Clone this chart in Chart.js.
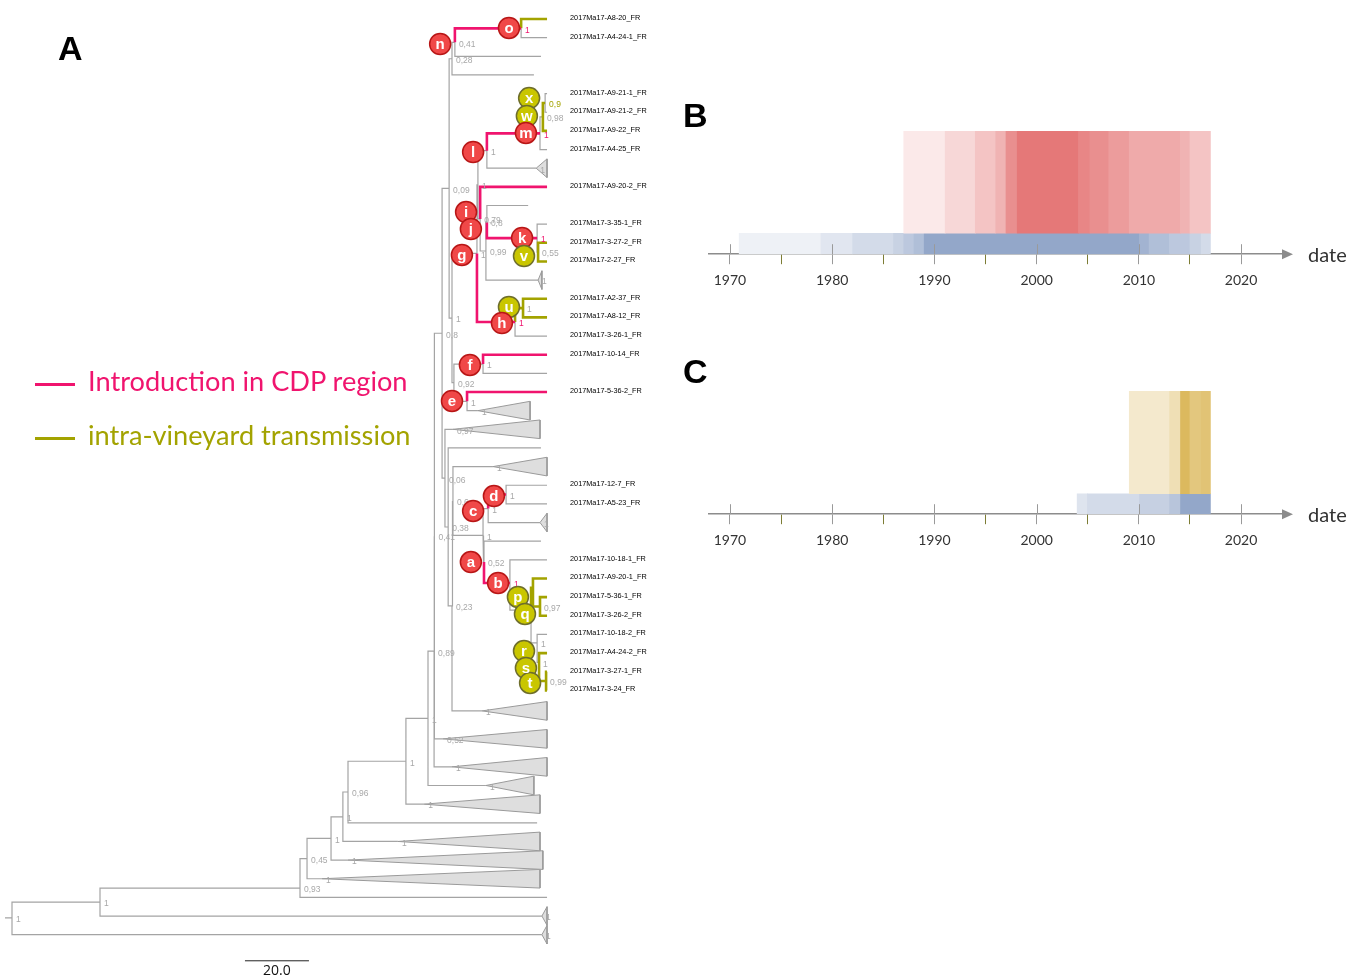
<!DOCTYPE html>
<html lang="en">
<head>
<meta charset="UTF-8" />
<title>Phylogeny of 2017Ma17 isolates and dating of introductions</title>
<script src="https://cdn.jsdelivr.net/npm/chart.js"></script>
<style>
  * { margin: 0; padding: 0; box-sizing: border-box; }
  body { width: 1364px; height: 980px; background: #fff; overflow: hidden; position: relative; }
  .box { position: absolute; }
  .letter { position: absolute; font: bold 34px 'Liberation Sans', Arial, sans-serif; line-height: 34px; color: #000; }
  .legend { position: absolute; left: 35px; font-family: Lato, 'Open Sans', sans-serif; font-size: 27.2px; line-height: 26px; white-space: nowrap; }
  .legend .line { display: inline-block; width: 40px; height: 3px; vertical-align: middle; margin-right: 13px; }
</style>
</head>
<body>
  <div class="box" style="left:0;top:0;width:660px;height:980px"><canvas id="tree"></canvas></div>
  <div class="box" style="left:700px;top:100px;width:664px;height:200px"><canvas id="panelB"></canvas></div>
  <div class="box" style="left:700px;top:360px;width:664px;height:200px"><canvas id="panelC"></canvas></div>

  <div class="letter" style="left:58px;top:31px">A</div>
  <div class="letter" style="left:683px;top:98px">B</div>
  <div class="letter" style="left:683px;top:354px">C</div>

  <div class="legend" style="top:368px;color:#f0146e"><span class="line" style="background:#f0146e"></span>Introduction in CDP region</div>
  <div class="legend" style="top:422px;color:#a3a300"><span class="line" style="background:#a3a300"></span>intra-vineyard transmission</div>

<script>
// ---------------- tree (panel A) ----------------
// internal nodes: id, parent, depth, row, branch colour, support, support colour
const nodes = [
  ['root', null, 0, 49.2, 'g', '1', 'g'],
  ['A', 'root', 27.5, 48.35, 'g', '1', 'g'],
  ['B', 'A', 90.0, 47.6, 'g', '0,93', 'g'],
  ['C', 'B', 92.2, 46.02, 'g', '0,45', 'g'],
  ['D', 'C', 99.7, 44.94, 'g', '1', 'g'],
  ['E', 'D', 103.4, 43.78, 'g', '1', 'g'],
  ['F', 'E', 105.0, 42.45, 'g', '0,96', 'g'],
  ['G4', 'F', 123.1, 40.8, 'g', '1', 'g'],
  ['H', 'G4', 130.0, 38.5, 'g', '1', 'g'],
  ['I', 'H', 131.9, 34.9, 'g', '0,89', 'g'],
  ['J', 'I', 132.0, 28.73, 'g', '0,41', 'g'],
  ['K', 'J', 134.4, 17.85, 'g', '0,8', 'g'],
  ['R', 'K', 136.6, 10.08, 'g', '0,09', 'g'],
  ['N1', 'R', 137.5, 3.13, 'g', '0,28', 'g'],
  ['Nn', 'N1', 138.4, 2.25, 'g', '0,41', 'g'],
  ['O', 'Nn', 159.1, 1.5, 'p', '1', 'p'],
  ['V', 'R', 137.5, 17.04, 'g', '1', 'g'],
  ['Gg', 'V', 145.3, 13.57, 'g', '1', 'g'],
  ['Gi', 'Gg', 145.6, 9.89, 'g', '1', 'g'],
  ['L', 'Gi', 148.4, 8.06, 'g', '1', 'g'],
  ['Mm', 'L', 165.0, 7.13, 'p', '1', 'p'],
  ['W98', 'Mm', 165.9, 6.25, 'g', '0,98', 'g'],
  ['X09', 'W98', 166.6, 5.5, 'o', '0,9', 'o'],
  ['Ii', 'Gi', 146.3, 11.72, 'g', '0,79', 'g'],
  ['Y99', 'Ii', 148.1, 13.44, 'g', '0,99', 'g'],
  ['X8', 'Y99', 148.4, 11.88, 'g', '0,8', 'g'],
  ['Kk', 'X8', 164.1, 12.75, 'p', '1', 'p'],
  ['Vv', 'Kk', 164.4, 13.5, 'g', '0,55', 'g'],
  ['Hh', 'Gg', 157.2, 17.25, 'p', '1', 'p'],
  ['Uu', 'Hh', 159.7, 16.5, 'o', '1', 'g'],
  ['S', 'V', 138.1, 20.5, 'g', '0,92', 'g'],
  ['Ff', 'S', 147.2, 19.5, 'g', '1', 'g'],
  ['Ee', 'S', 142.2, 21.5, 'g', '1', 'g'],
  ['M', 'K', 135.3, 25.62, 'g', '0,06', 'g'],
  ['O38', 'M', 136.3, 28.24, 'g', '0,38', 'g'],
  ['P', 'O38', 137.5, 32.47, 'g', '0,23', 'g'],
  ['C6', 'P', 137.8, 26.85, 'g', '0,6', 'g'],
  ['C7', 'C6', 147.2, 28.69, 'g', '1', 'g'],
  ['Cc', 'C7', 148.8, 27.25, 'g', '1', 'g'],
  ['Dd', 'Cc', 154.4, 26.5, 'p', '1', 'g'],
  ['Z', 'C7', 147.5, 30.12, 'g', '0,52', 'g'],
  ['Bb', 'Z', 155.6, 31.24, 'p', '1', 'p'],
  ['Y', 'Bb', 162.2, 32.7, 'g', '', 'g'],
  ['Pp', 'Y', 162.8, 31.5, 'o', '', 'g'],
  ['Qq', 'Pp', 165.0, 32.5, 'o', '0,97', 'g'],
  ['W1', 'Y', 164.1, 34.45, 'g', '1', 'g'],
  ['W2', 'W1', 164.7, 35.5, 'g', '1', 'g'],
  ['Tt', 'W2', 166.9, 36.5, 'o', '0,99', 'g']
];

// tips: name, parent, depth, row, branch colour
const tips = [
  ['2017Ma17-A8-20_FR', 'O', 167.2, 1, 'o'],
  ['2017Ma17-A4-24-1_FR', 'O', 167.2, 2, 'g'],
  ['', 'Nn', 165.3, 3, 'g'],
  ['', 'N1', 163.1, 4, 'g'],
  ['2017Ma17-A9-21-1_FR', 'X09', 167.2, 5, 'g'],
  ['2017Ma17-A9-21-2_FR', 'X09', 167.2, 6, 'g'],
  ['2017Ma17-A9-22_FR', 'W98', 167.2, 7, 'o'],
  ['2017Ma17-A4-25_FR', 'Mm', 167.2, 8, 'g'],
  ['2017Ma17-A9-20-2_FR', 'Ii', 167.2, 10, 'p'],
  ['', 'X8', 161.3, 11, 'g'],
  ['2017Ma17-3-35-1_FR', 'Kk', 167.2, 12, 'g'],
  ['2017Ma17-3-27-2_FR', 'Vv', 167.2, 13, 'o'],
  ['2017Ma17-2-27_FR', 'Vv', 167.2, 14, 'o'],
  ['2017Ma17-A2-37_FR', 'Uu', 167.2, 16, 'o'],
  ['2017Ma17-A8-12_FR', 'Uu', 167.2, 17, 'o'],
  ['2017Ma17-3-26-1_FR', 'Hh', 167.2, 18, 'g'],
  ['2017Ma17-10-14_FR', 'Ff', 167.2, 19, 'p'],
  ['', 'Ff', 167.2, 20, 'g'],
  ['2017Ma17-5-36-2_FR', 'Ee', 167.2, 21, 'p'],
  ['', 'O38', 165.3, 24, 'g'],
  ['2017Ma17-12-7_FR', 'Dd', 167.2, 26, 'g'],
  ['2017Ma17-A5-23_FR', 'Dd', 167.2, 27, 'g'],
  ['', 'Z', 165.3, 29, 'g'],
  ['2017Ma17-10-18-1_FR', 'Bb', 167.2, 30, 'g'],
  ['2017Ma17-A9-20-1_FR', 'Pp', 167.2, 31, 'o'],
  ['2017Ma17-5-36-1_FR', 'Qq', 167.2, 32, 'o'],
  ['2017Ma17-3-26-2_FR', 'Qq', 167.2, 33, 'o'],
  ['2017Ma17-10-18-2_FR', 'W1', 167.2, 34, 'g'],
  ['2017Ma17-A4-24-2_FR', 'W2', 167.2, 35, 'o'],
  ['2017Ma17-3-27-1_FR', 'Tt', 167.2, 36, 'o'],
  ['2017Ma17-3-24_FR', 'Tt', 167.2, 37, 'o'],
  ['', 'F', 164.1, 44.1, 'g'],
  ['', 'B', 167.2, 48.1, 'g']
];

// collapsed clades: parent, apex depth, tip depth, row, support
const clades = [
  ['L', 163.8, 167.2, 9, '1'],
  ['Y99', 164.4, 165.6, 15, '1'],
  ['Ee', 145.6, 161.9, 22, '1'],
  ['M', 137.8, 165.0, 23, '0,97'],
  ['C6', 150.3, 167.2, 25, '1'],
  ['Cc', 165.0, 167.2, 28, '1'],
  ['P', 146.9, 167.2, 38.1, '1'],
  ['J', 134.7, 167.2, 39.6, '0,52'],
  ['I', 137.5, 167.2, 41.1, '1'],
  ['H', 148.1, 163.1, 42.1, '1'],
  ['G4', 128.8, 165.0, 43.1, '1'],
  ['E', 120.6, 165.0, 45.1, '1'],
  ['D', 105.0, 165.9, 46.1, '1'],
  ['C', 96.9, 165.0, 47.1, '1'],
  ['A', 165.6, 167.2, 49.1, '1'],
  ['root', 165.6, 167.2, 50.1, '1']
];

// labelled events: letter, kind (p = introduction, o = transmission), depth, row
const events = [
  ['o', 'p', 155.3, 1.48], ['n', 'p', 133.8, 2.34], ['x', 'o', 161.6, 5.24],
  ['w', 'o', 160.9, 6.2], ['m', 'p', 160.6, 7.11], ['l', 'p', 144.1, 8.13],
  ['i', 'p', 141.9, 11.35], ['j', 'p', 143.4, 12.26], ['k', 'p', 159.4, 12.74],
  ['g', 'p', 140.6, 13.65], ['v', 'o', 160.0, 13.71], ['u', 'o', 155.3, 16.44],
  ['h', 'p', 153.1, 17.3], ['f', 'p', 143.1, 19.55], ['e', 'p', 137.5, 21.48],
  ['d', 'p', 150.6, 26.58], ['c', 'p', 144.1, 27.38], ['a', 'p', 143.4, 30.12],
  ['b', 'p', 151.9, 31.24], ['p', 'o', 158.1, 31.99], ['q', 'o', 160.3, 32.9],
  ['r', 'o', 160.0, 34.89], ['s', 'o', 160.6, 35.8], ['t', 'o', 161.9, 36.6]
];

const scaleBarLength = 20;
const scaleBarLabel = '20.0';

// ---------------- timelines (panels B and C) ----------------
const tickYears = [1970, 1975, 1980, 1985, 1990, 1995, 2000, 2005, 2010, 2015, 2020];

const introEdgesB = [1987.0, 1991.05, 1994.0, 1996.0, 1997.0, 1998.1, 2004.1, 2005.2, 2007.05, 2009.06, 2014.07, 2015.0, 2017.0];
const introDensityB = [0.16, 0.30, 0.44, 0.56, 0.83, 1.0, 0.90, 0.83, 0.73, 0.63, 0.56, 0.44];
const popEdgesB = [1970.9, 1978.9, 1982.0, 1986.0, 1987.0, 1988.0, 1989.0, 2010.06, 2011.0, 2013.0, 2015.0, 2016.1, 2017.0];
const popDensityB = [0.16, 0.28, 0.41, 0.51, 0.62, 0.73, 1.0, 0.86, 0.73, 0.62, 0.51, 0.41];

const transEdgesC = [2009.06, 2013.0, 2014.07, 2015.0, 2016.1, 2017.0];
const transDensityC = [0.31, 0.46, 1.0, 0.8, 0.86];
const popEdgesC = [2003.96, 2004.96, 2010.06, 2013.0, 2014.07, 2017.0];
const popDensityC = [0.31, 0.41, 0.53, 0.66, 1.0];

// ---------------- drawing ----------------
const PINK = '#f0146e', OLIVE = '#a3a300', GREY = '#a4a4a4';
const branchColour = { g: GREY, p: PINK, o: OLIVE };
const labelColour = { g: '#a8a8a8', p: PINK, o: OLIVE };

const pos = {};
nodes.forEach(n => { pos[n[0]] = { x: n[2], y: n[3] }; });

const segs = { g: [], p: [], o: [] };
function addBranch(parentId, x, y, colour) {
  const p = pos[parentId];
  segs[colour].push({ x: p.x, y: p.y }, { x: p.x, y: y }, { x: x, y: y }, { x: NaN, y: NaN });
}
nodes.forEach(n => { if (n[1]) addBranch(n[1], n[2], n[3], n[4]); });
tips.forEach(t => addBranch(t[1], t[2], t[3], t[4]));
clades.forEach(c => addBranch(c[0], c[1], c[3], 'g'));
segs.g.push({ x: -2.2, y: pos.root.y }, { x: pos.root.x, y: pos.root.y });

function lineSet(colour, width) {
  return {
    type: 'line', data: segs[colour], borderColor: branchColour[colour], borderWidth: width,
    pointRadius: 0, fill: false, tension: 0, spanGaps: false, borderJoinStyle: 'miter'
  };
}

const cladeSets = clades.map(c => ({
  type: 'line',
  data: [{ x: c[1], y: c[3] }, { x: c[2], y: c[3] - 0.5 }, { x: c[2], y: c[3] + 0.5 }, { x: c[1], y: c[3] }],
  borderColor: '#9a9a9a', borderWidth: 1, backgroundColor: '#dedede',
  fill: 'shape', pointRadius: 0, tension: 0
}));

const treeText = {
  id: 'treeText',
  beforeDatasetDraw(chart, args) {
    if (chart.data.datasets[args.index].label !== 'events') return;
    const { x, y } = chart.scales;
    const ctx = chart.ctx;
    ctx.save();
    ctx.font = '8.5px "Liberation Sans", Arial, sans-serif';
    ctx.textBaseline = 'middle';
    nodes.forEach(n => {
      if (!n[5]) return;
      ctx.fillStyle = labelColour[n[6]];
      ctx.fillText(n[5], x.getPixelForValue(n[2]) + 4, y.getPixelForValue(n[3]) + 2);
    });
    ctx.fillStyle = labelColour.g;
    clades.forEach(c => ctx.fillText(c[4], x.getPixelForValue(c[1]) + 4, y.getPixelForValue(c[3]) + 2));
    ctx.restore();
  },
  afterDatasetsDraw(chart) {
    const { x, y } = chart.scales;
    const ctx = chart.ctx;
    ctx.save();
    // letters in the event circles
    ctx.fillStyle = '#fff';
    ctx.font = 'bold 15px "Liberation Sans", Arial, sans-serif';
    ctx.textAlign = 'center';
    ctx.textBaseline = 'middle';
    events.forEach(e => ctx.fillText(e[0], x.getPixelForValue(e[2]), y.getPixelForValue(e[3]) + 1));
    // tip names
    ctx.fillStyle = '#000';
    ctx.font = '7.3px "Liberation Sans", Arial, sans-serif';
    ctx.textAlign = 'left';
    tips.forEach(t => { if (t[0]) ctx.fillText(t[0], x.getPixelForValue(t[2]) + 23, y.getPixelForValue(t[3]) - 1); });
    // scale bar
    const x0 = x.getPixelForValue(72.8), x1 = x.getPixelForValue(72.8 + scaleBarLength);
    const yb = y.getPixelForValue(51.5);
    ctx.strokeStyle = '#222';
    ctx.lineWidth = 1;
    ctx.beginPath(); ctx.moveTo(x0, yb); ctx.lineTo(x1, yb); ctx.stroke();
    ctx.fillStyle = '#111';
    ctx.font = '14px "Open Sans", sans-serif';
    ctx.textAlign = 'center';
    ctx.textBaseline = 'top';
    ctx.fillText(scaleBarLabel, (x0 + x1) / 2, yb + 3);
    ctx.restore();
  }
};

new Chart(document.getElementById('tree'), {
  type: 'scatter',
  data: {
    datasets: [
      {
        label: 'events',
        data: events.map(e => ({ x: e[2], y: e[3] })),
        pointRadius: 10.5,
        pointBorderWidth: 1.5,
        pointBackgroundColor: events.map(e => e[1] === 'p' ? '#f04848' : '#c9c600'),
        pointBorderColor: events.map(e => e[1] === 'p' ? '#b81616' : '#6e6e2c')
      },
      lineSet('p', 2.6),
      lineSet('o', 2.6),
      lineSet('g', 1.2),
      ...cladeSets
    ]
  },
  options: {
    responsive: true,
    maintainAspectRatio: false,
    animation: false,
    events: [],
    layout: { autoPadding: false, padding: 0 },
    plugins: { legend: { display: false }, tooltip: { enabled: false } },
    scales: {
      x: { type: 'linear', min: -3.75, max: 202.5, display: false },
      y: { type: 'linear', min: -0.02, max: 52.53, reverse: true, display: false }
    }
  },
  plugins: [treeText]
});

// ---------------- timelines ----------------
function shade(rgb, a) {
  const c = rgb.map(v => Math.round(255 - a * (255 - v)));
  return 'rgb(' + c.join(',') + ')';
}
function bands(edges, row) {
  return edges.slice(0, -1).map((s, i) => ({ x: [s, edges[i + 1]], y: row }));
}

const axisDecor = {
  id: 'axisDecor',
  afterDraw(chart) {
    const ctx = chart.ctx, xs = chart.scales.x;
    const yb = chart.chartArea.bottom, xr = chart.chartArea.right;
    ctx.save();
    ctx.strokeStyle = '#9a9a9a';
    ctx.lineWidth = 1;
    xs.ticks.forEach(t => {
      if (t.value % 10) return;
      const px = Math.round(xs.getPixelForValue(t.value)) + 0.5;
      ctx.beginPath(); ctx.moveTo(px, yb - 10); ctx.lineTo(px, yb); ctx.stroke();
    });
    ctx.fillStyle = '#8c8c8c';
    ctx.beginPath(); ctx.moveTo(xr, yb - 5); ctx.lineTo(xr + 11, yb); ctx.lineTo(xr, yb + 5); ctx.closePath(); ctx.fill();
    ctx.fillStyle = '#333';
    ctx.font = '20px Lato, "Open Sans", sans-serif';
    ctx.textBaseline = 'middle';
    ctx.fillText('date', xr + 26, yb + 1);
    ctx.restore();
  }
};

// upper row (dated events) at y = 1, lower row (population) at y = 0
function timeline(id, upper, lower, upperThick, lowerThick) {
  return new Chart(document.getElementById(id), {
    type: 'bar',
    data: {
      datasets: [
        {
          data: bands(upper.edges, 1), backgroundColor: upper.density.map(a => shade(upper.rgb, a)),
          barThickness: upperThick, stack: 'rows', borderWidth: 0
        },
        {
          data: bands(lower.edges, 0), backgroundColor: lower.density.map(a => shade(lower.rgb, a)),
          barThickness: lowerThick, stack: 'rows', borderWidth: 0
        }
      ]
    },
    options: {
      indexAxis: 'y',
      responsive: true,
      maintainAspectRatio: false,
      animation: false,
      events: [],
      layout: { autoPadding: false, padding: { left: 9, right: 82, top: 31, bottom: 3 } },
      plugins: { legend: { display: false }, tooltip: { enabled: false } },
      scales: {
        x: {
          type: 'linear', min: 1967.95, max: 2024, stacked: false,
          afterBuildTicks: s => { s.ticks = tickYears.map(v => ({ value: v })); },
          grid: {
            drawOnChartArea: false, drawTicks: true, tickLength: 10, tickWidth: 1,
            tickColor: c => (c.tick && c.tick.value % 10 === 0) ? '#9a9a9a' : '#7d7d35'
          },
          border: { color: '#8c8c8c', width: 1.5 },
          ticks: {
            autoSkip: false, maxRotation: 0, padding: 8, color: '#333',
            font: { family: 'Lato, "Open Sans", sans-serif', size: 14 },
            callback: v => (v % 10 === 0 ? String(v) : '')
          }
        },
        y: { type: 'linear', min: -0.17, max: 1.83, offset: false, display: false }
      }
    },
    plugins: [axisDecor]
  });
}

timeline('panelB',
  { edges: introEdgesB, density: introDensityB, rgb: [229, 120, 120] },
  { edges: popEdgesB, density: popDensityB, rgb: [147, 167, 201] }, 102, 21);
timeline('panelC',
  { edges: transEdgesC, density: transDensityC, rgb: [220, 185, 94] },
  { edges: popEdgesC, density: popDensityC, rgb: [147, 167, 201] }, 103, 20);
</script>
</body>
</html>
